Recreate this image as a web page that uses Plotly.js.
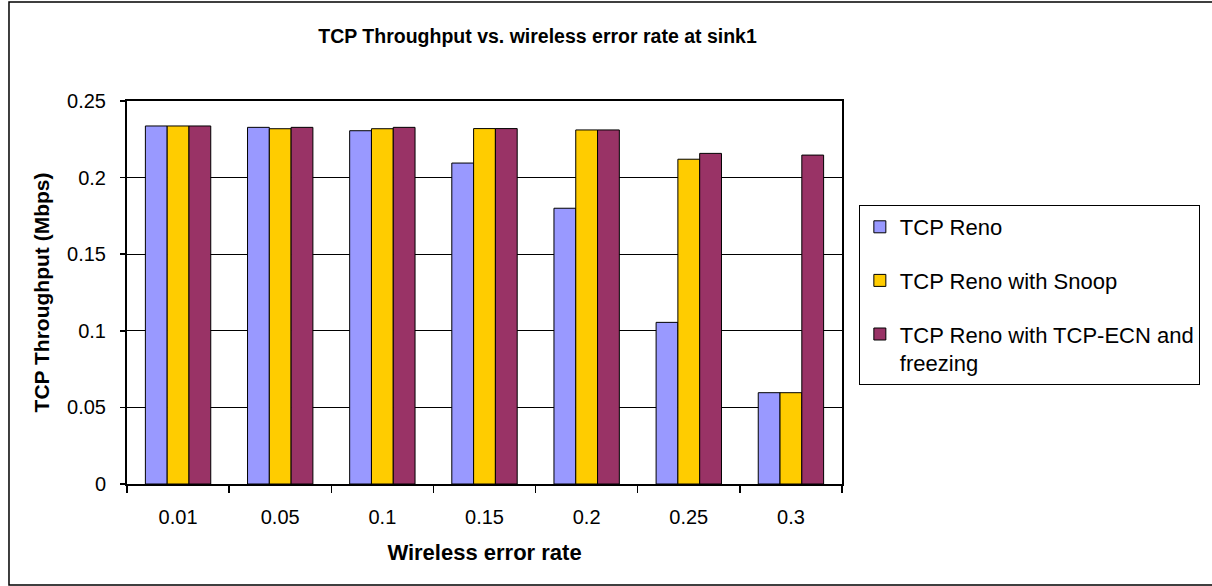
<!DOCTYPE html>
<html>
<head>
<meta charset="utf-8">
<script src="https://cdn.plot.ly/plotly-3.0.1.min.js"></script>
<style>html,body{margin:0;padding:0;background:#fff;}#chart{width:1212px;height:586px;}</style>
</head>
<body>
<div id="chart"></div>
<script>
const categories = ['0.01', '0.05', '0.1', '0.15', '0.2', '0.25', '0.3'];
const seriesNames = ['TCP Reno', 'TCP Reno with Snoop', 'TCP Reno with TCP-ECN and<br>freezing'];
const tcpReno = [0.2337, 0.2328, 0.2306, 0.2095, 0.180, 0.1055, 0.0596];
const tcpRenoSnoop = [0.2337, 0.2319, 0.2319, 0.2320, 0.2311, 0.2120, 0.0596];
const tcpRenoEcnFreezing = [0.2337, 0.2328, 0.2328, 0.2320, 0.2311, 0.2158, 0.2147];
const colors = ['#9999FF', '#FFCC00', '#993366'];
const yTicks = [0, 0.05, 0.1, 0.15, 0.2, 0.25];
const yTickText = ['0', '0.05', '0.1', '0.15', '0.2', '0.25'];

const FONT = 'Arial, "Liberation Sans", sans-serif';
const W = 1212, H = 586;
const L = 127, R = 848, T = 101, B = 484;
const pw = R - L, ph = B - T;
function px(x) { return (x - L) / pw; }
function py(y) { return (B - y) / ph; }

const seriesValues = [tcpReno, tcpRenoSnoop, tcpRenoEcnFreezing];
const traces = seriesValues.map((vals, i) => ({
  type: 'bar',
  name: seriesNames[i],
  x: categories,
  y: vals,
  legendgroup: 'g' + i,
  marker: { color: colors[i], line: { color: '#000', width: 1 } },
  hoverinfo: 'x+y+name'
}));

const layout = {
  width: W, height: H,
  margin: { l: L, r: W - R, t: T, b: H - B, pad: 0 },
  paper_bgcolor: '#fff',
  plot_bgcolor: '#fff',
  font: { family: FONT, color: '#000', size: 20 },
  title: {
    text: '<b>TCP Throughput vs. wireless error rate at sink1</b>',
    font: { family: FONT, size: 19.5, color: '#000' },
    xref: 'paper', x: px(541), xanchor: 'center',
    yref: 'container', y: 1 - 36 / H, yanchor: 'middle'
  },
  barmode: 'group',
  bargap: 0.36,
  bargroupgap: 0,
  xaxis: {
    type: 'category',
    title: { text: '<b>Wireless error rate</b>', font: { family: FONT, size: 22, color: '#000' }, standoff: 18 },
    ticks: 'outside', ticklen: 7, tickwidth: 1.5, tickcolor: '#000',
    tickson: 'boundaries',
    tickfont: { family: FONT, size: 20, color: '#000' },
    ticklabelstandoff: 14,
    showline: true, linecolor: '#000', linewidth: 2, mirror: true,
    showgrid: false, zeroline: false
  },
  yaxis: {
    range: [0, 0.25],
    tickvals: yTicks, ticktext: yTickText,
    title: { text: '<b>TCP Throughput (Mbps)</b>', font: { family: FONT, size: 21, color: '#000' }, standoff: 12 },
    ticks: 'outside', ticklen: 5, tickwidth: 1.5, tickcolor: '#000',
    tickfont: { family: FONT, size: 20, color: '#000' },
    ticklabelstandoff: 10,
    showline: true, linecolor: '#000', linewidth: 2, mirror: true,
    showgrid: true, gridcolor: '#000', gridwidth: 1,
    zeroline: false
  },
  legend: {
    x: px(865), xanchor: 'left', xref: 'paper',
    y: py(205), yanchor: 'top', yref: 'paper',
    bordercolor: '#000', borderwidth: 1, bgcolor: '#fff',
    font: { family: FONT, size: 22, color: '#000' },
    tracegroupgap: 22,
    valign: 'top',
    traceorder: 'grouped'
  },
  shapes: [{
    type: 'rect', xref: 'paper', yref: 'paper',
    x0: px(8), x1: px(1240), y0: py(585), y1: py(2),
    line: { color: '#000', width: 1.5 }, fillcolor: 'rgba(0,0,0,0)', layer: 'below'
  }]
};

Plotly.newPlot('chart', traces, layout, { staticPlot: true, displayModeBar: false });
</script>
</body>
</html>
